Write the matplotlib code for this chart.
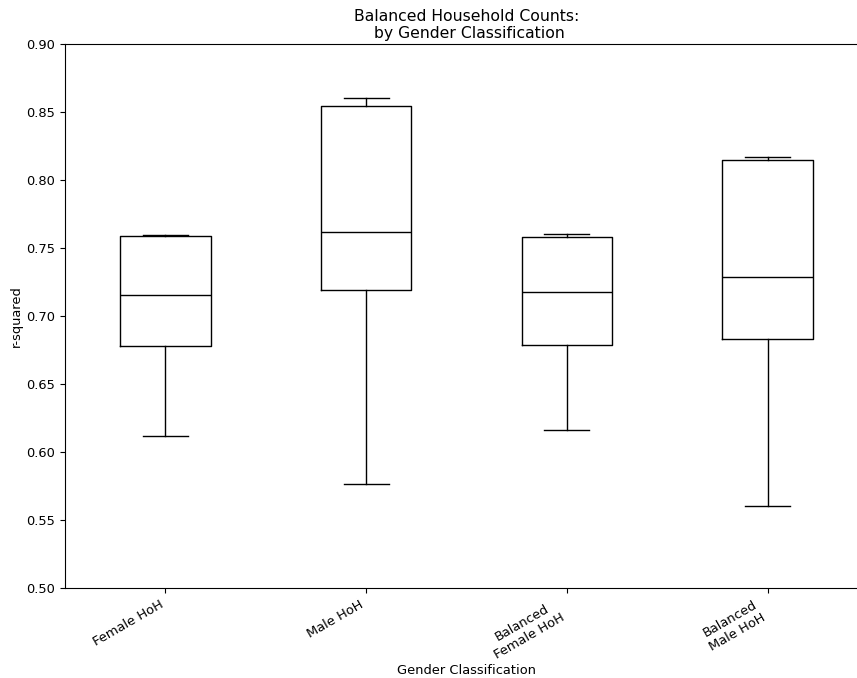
import matplotlib
matplotlib.use("Agg")
import matplotlib.pyplot as plt

categories = ["Female HoH", "Male HoH", "Balanced\nFemale HoH", "Balanced\nMale HoH"]
whisker_low = [0.6118, 0.5765, 0.6162, 0.5603]
q1 = [0.6782, 0.7191, 0.6787, 0.6831]
median = [0.7157, 0.7618, 0.7176, 0.7287]
q3 = [0.7588, 0.8544, 0.7581, 0.8147]
whisker_high = [0.7596, 0.8603, 0.7603, 0.8169]

plt.rcParams["font.size"] = 9.4

stats = [
    dict(label=c, whislo=lo, q1=a, med=m, q3=b, whishi=hi, fliers=[])
    for c, lo, a, m, b, hi in zip(categories, whisker_low, q1, median, q3, whisker_high)
]

fig = plt.figure(figsize=(8.57, 6.78), dpi=100)
ax = fig.add_axes([65 / 857, 1 - 588 / 678, 803 / 857, 544 / 678])

black = dict(color="black", linewidth=1.0)
ax.bxp(stats, positions=[1, 2, 3, 4], widths=0.45,
       boxprops=black, medianprops=black, whiskerprops=black, capprops=black,
       showfliers=False)

ax.set_xlim(0.5, 4.5)
ax.set_ylim(0.50, 0.90)
ax.set_yticks([0.50, 0.55, 0.60, 0.65, 0.70, 0.75, 0.80, 0.85, 0.90])
ax.set_yticklabels([f"{v:.2f}" for v in ax.get_yticks()])
ax.set_xticks([1, 2, 3, 4])
ax.set_xticklabels(categories, rotation=30, ha="right", multialignment="center")
ax.spines["right"].set_visible(False)

ax.set_title("Balanced Household Counts:\n by Gender Classification", pad=4)
ax.set_ylabel("r-squared", labelpad=2.5)
ax.set_xlabel("Gender Classification", labelpad=2)

fig.savefig("out.png", dpi=100)
